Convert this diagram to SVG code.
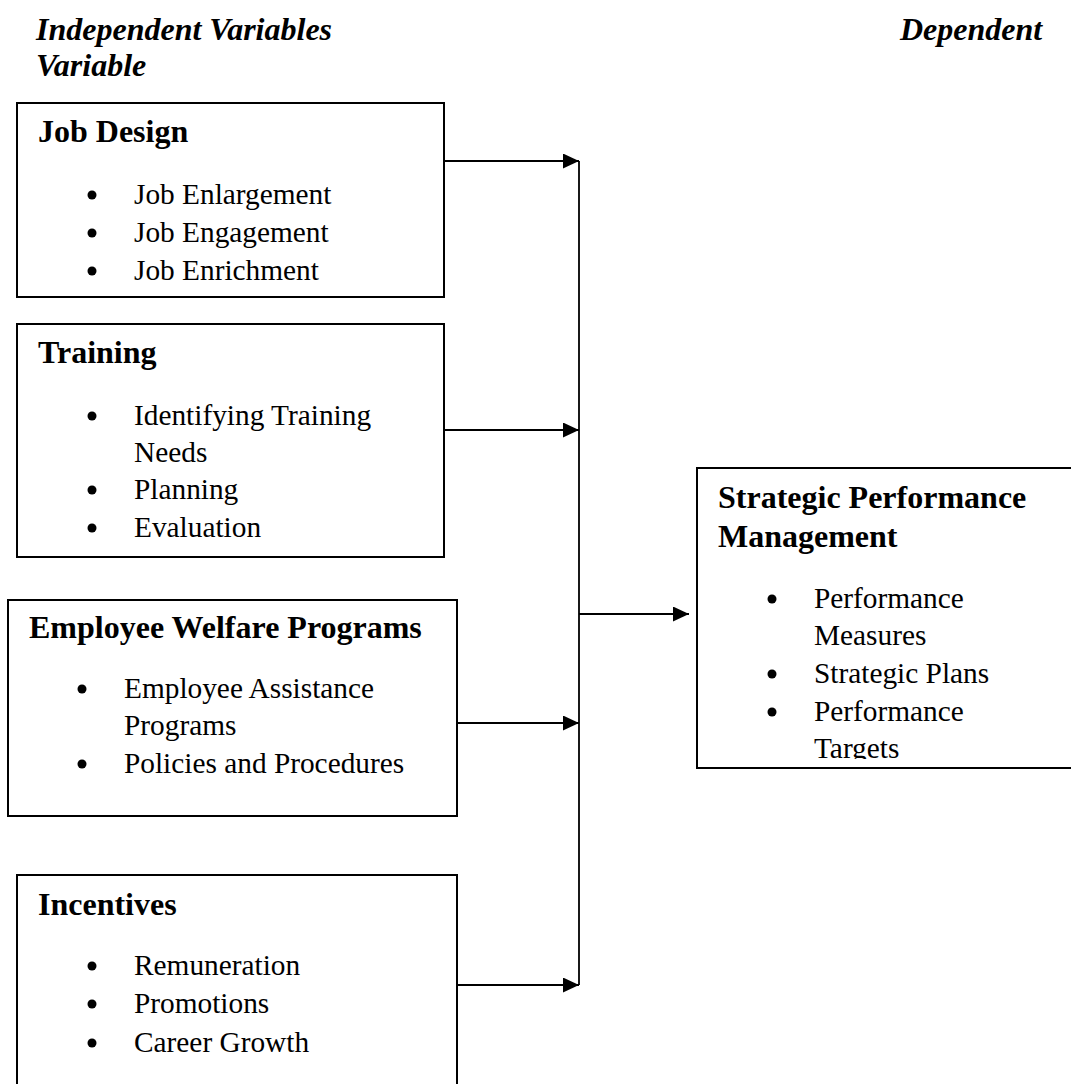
<svg xmlns="http://www.w3.org/2000/svg" width="1071" height="1084" viewBox="0 0 1071 1084">
  <style>
    .box { fill: #ffffff; stroke: #000000; stroke-width: 2; }
    .title { font-family: "Liberation Serif", "Times New Roman", serif; font-size: 32px; font-weight: bold; font-style: italic; fill: #000000; }
    .head { font-family: "Liberation Serif", "Times New Roman", serif; font-size: 32px; font-weight: bold; fill: #000000; }
    .item { font-family: "Liberation Serif", "Times New Roman", serif; font-size: 29.33px; fill: #000000; }
    .dot { fill: #000000; }
    .wire { fill: none; stroke: #000000; stroke-width: 1.8; }
  </style>
  <defs>
    <marker id="arrow" markerUnits="userSpaceOnUse" markerWidth="16" markerHeight="15" refX="16" refY="7.5" orient="auto">
      <path d="M0,0 L16,7.5 L0,15 Z" fill="#000000"/>
    </marker>
    <clipPath id="spmClip">
      <rect x="697" y="468" width="380" height="291"/>
    </clipPath>
  </defs>

  <rect width="1071" height="1084" fill="#ffffff"/>

  <!-- column headings -->
  <g id="headings">
    <text class="title" x="36" y="40">Independent Variables</text>
    <text class="title" x="36" y="76">Variable</text>
    <text class="title" x="900" y="40">Dependent</text>
  </g>

  <!-- connectors -->
  <g id="connectors">
    <line class="wire" x1="579" y1="161" x2="579" y2="985"/>
    <line class="wire" x1="444" y1="161" x2="579" y2="161" marker-end="url(#arrow)"/>
    <line class="wire" x1="444" y1="430" x2="579" y2="430" marker-end="url(#arrow)"/>
    <line class="wire" x1="457" y1="723" x2="579" y2="723" marker-end="url(#arrow)"/>
    <line class="wire" x1="457" y1="985" x2="579" y2="985" marker-end="url(#arrow)"/>
    <line class="wire" x1="579" y1="614" x2="689" y2="614" marker-end="url(#arrow)"/>
  </g>

  <!-- Job Design -->
  <g id="job-design">
    <rect class="box" x="17" y="103" width="427" height="194"/>
    <text class="head" x="38" y="142">Job Design</text>
    <circle class="dot" cx="92" cy="195" r="4.5"/>
    <text class="item" x="134" y="204">Job Enlargement</text>
    <circle class="dot" cx="92" cy="233" r="4.5"/>
    <text class="item" x="134" y="242">Job Engagement</text>
    <circle class="dot" cx="92" cy="271" r="4.5"/>
    <text class="item" x="134" y="280">Job Enrichment</text>
  </g>

  <!-- Training -->
  <g id="training">
    <rect class="box" x="17" y="324" width="427" height="233"/>
    <text class="head" x="38" y="363">Training</text>
    <circle class="dot" cx="92" cy="416" r="4.5"/>
    <text class="item" x="134" y="425">Identifying Training</text>
    <text class="item" x="134" y="462">Needs</text>
    <circle class="dot" cx="92" cy="490" r="4.5"/>
    <text class="item" x="134" y="499">Planning</text>
    <circle class="dot" cx="92" cy="528" r="4.5"/>
    <text class="item" x="134" y="537">Evaluation</text>
  </g>

  <!-- Employee Welfare Programs -->
  <g id="employee-welfare">
    <rect class="box" x="8" y="600" width="449" height="216"/>
    <text class="head" x="29" y="638">Employee Welfare Programs</text>
    <circle class="dot" cx="82" cy="689" r="4.5"/>
    <text class="item" x="124" y="698">Employee Assistance</text>
    <text class="item" x="124" y="735">Programs</text>
    <circle class="dot" cx="82" cy="764" r="4.5"/>
    <text class="item" x="124" y="773">Policies and Procedures</text>
  </g>

  <!-- Incentives -->
  <g id="incentives">
    <rect class="box" x="17" y="875" width="440" height="220"/>
    <text class="head" x="38" y="915">Incentives</text>
    <circle class="dot" cx="92" cy="966" r="4.5"/>
    <text class="item" x="134" y="975">Remuneration</text>
    <circle class="dot" cx="92" cy="1004" r="4.5"/>
    <text class="item" x="134" y="1013">Promotions</text>
    <circle class="dot" cx="92" cy="1043" r="4.5"/>
    <text class="item" x="134" y="1052">Career Growth</text>
  </g>

  <!-- Strategic Performance Management -->
  <g id="strategic-performance-management">
    <rect class="box" x="697" y="468" width="380" height="300"/>
    <text class="head" x="718" y="508">Strategic Performance</text>
    <text class="head" x="718" y="547">Management</text>
    <g clip-path="url(#spmClip)">
      <circle class="dot" cx="772" cy="599" r="4.5"/>
      <text class="item" x="814" y="608">Performance</text>
      <text class="item" x="814" y="645">Measures</text>
      <circle class="dot" cx="772" cy="674" r="4.5"/>
      <text class="item" x="814" y="683">Strategic Plans</text>
      <circle class="dot" cx="772" cy="712" r="4.5"/>
      <text class="item" x="814" y="721">Performance</text>
      <text class="item" x="814" y="758">Targets</text>
    </g>
  </g>
</svg>
